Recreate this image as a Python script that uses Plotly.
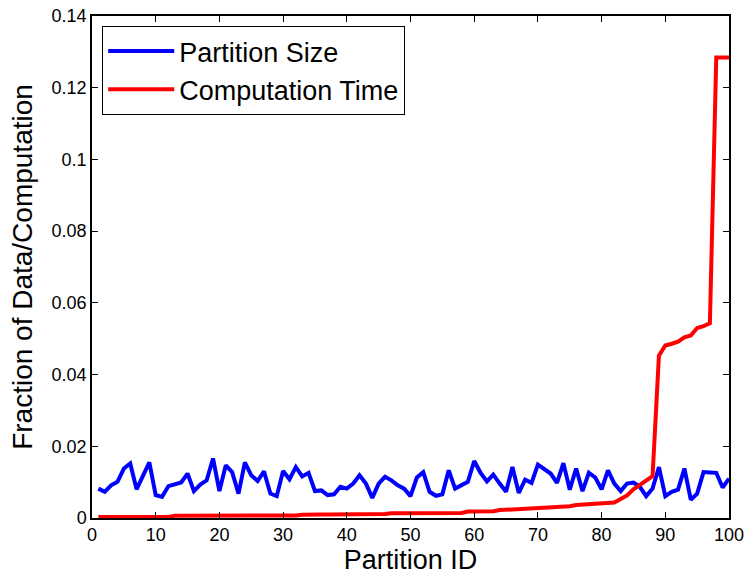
import plotly.graph_objects as go

partition_id = list(range(1, 101))

partition_size = [
    0.0082, 0.0073, 0.0091, 0.0101, 0.0138, 0.0152, 0.0080, 0.0119, 0.0155, 0.0064,
    0.0059, 0.0089, 0.0094, 0.0099, 0.0124, 0.0075, 0.0093, 0.0105, 0.0166, 0.0075,
    0.0147, 0.0128, 0.0068, 0.0155, 0.0119, 0.0103, 0.0130, 0.0068, 0.0061, 0.0131,
    0.0108, 0.0142, 0.0116, 0.0126, 0.0075, 0.0077, 0.0064, 0.0066, 0.0087, 0.0082,
    0.0096, 0.0119, 0.0096, 0.0056, 0.0096, 0.0115, 0.0105, 0.0091, 0.0082, 0.0061,
    0.0113, 0.0128, 0.0073, 0.0062, 0.0066, 0.0133, 0.0082, 0.0091, 0.0101, 0.0159,
    0.0126, 0.0102, 0.0121, 0.0096, 0.0073, 0.0142, 0.0070, 0.0107, 0.0098, 0.0149,
    0.0135, 0.0124, 0.0098, 0.0153, 0.0079, 0.0138, 0.0075, 0.0126, 0.0113, 0.0080,
    0.0133, 0.0096, 0.0075, 0.0096, 0.0099, 0.0087, 0.0061, 0.0082, 0.0142, 0.0061,
    0.0073, 0.0079, 0.0138, 0.0051, 0.0068, 0.0128, 0.0127, 0.0126, 0.0085, 0.0110,
]

computation_time = [
    0.0003, 0.0003, 0.0003, 0.0003, 0.0003, 0.0003, 0.0003, 0.0003, 0.0003, 0.0003,
    0.0003, 0.0003, 0.0006, 0.0006, 0.0006, 0.0006, 0.0006, 0.0006, 0.0006, 0.0006,
    0.0006, 0.0006, 0.0006, 0.0006, 0.0006, 0.0006, 0.0006, 0.0006, 0.0006, 0.0006,
    0.0006, 0.0007, 0.0009, 0.0010, 0.0010, 0.0010, 0.0010, 0.0010, 0.0010, 0.0010,
    0.0010, 0.0010, 0.0010, 0.0010, 0.0010, 0.0011, 0.0013, 0.0013, 0.0013, 0.0013,
    0.0013, 0.0013, 0.0013, 0.0013, 0.0013, 0.0013, 0.0013, 0.0014, 0.0018, 0.0018,
    0.0018, 0.0018, 0.0019, 0.0022, 0.0023, 0.0024, 0.0026, 0.0026, 0.0026, 0.0027,
    0.0028, 0.0030, 0.0031, 0.0032, 0.0033, 0.0036, 0.0037, 0.0038, 0.0040, 0.0041,
    0.0041, 0.0043, 0.0053, 0.0063, 0.0080, 0.0092, 0.0102, 0.0117, 0.0453, 0.0481,
    0.0486, 0.0492, 0.0504, 0.0509, 0.0530, 0.0535, 0.0543, 0.1284, 0.1284, 0.1284,
]

x_ticks = list(range(0, 101, 10))
y_ticks = [0, 0.02, 0.04, 0.06, 0.08, 0.1, 0.12, 0.14]

FONT = "Liberation Sans, Arial, sans-serif"

fig = go.Figure()
fig.add_trace(go.Scatter(x=partition_id, y=partition_size, mode="lines",
                         name="Partition Size", line=dict(color="#0000FF", width=4)))
fig.add_trace(go.Scatter(x=partition_id, y=computation_time, mode="lines",
                         name="Computation Time", line=dict(color="#FF0000", width=4)))

axis_common = dict(
    showline=True, linecolor="black", linewidth=1.5, mirror="ticks",
    ticks="inside", ticklen=6, tickcolor="black", tickwidth=1,
    showgrid=False, zeroline=False, automargin=False,
    tickfont=dict(family=FONT, size=18, color="black"),
)

fig.update_layout(
    width=745, height=575,
    margin=dict(l=92, r=16, t=16, b=57),
    paper_bgcolor="white", plot_bgcolor="white",
    font=dict(family=FONT, color="black"),
    xaxis=dict(range=[0, 100], tickvals=x_ticks, **axis_common,
               title=dict(text="Partition ID", font=dict(family=FONT, size=27), standoff=5)),
    yaxis=dict(range=[0, 0.14], tickvals=y_ticks, **axis_common,
               title=dict(text="Fraction of Data/Computation", font=dict(family=FONT, size=28), standoff=11)),
    legend=dict(x=0.016, y=0.98, xanchor="left", yanchor="top",
                bgcolor="white", bordercolor="black", borderwidth=1,
                font=dict(family=FONT, size=27, color="black"),
                itemwidth=66, tracegroupgap=0),
    showlegend=True,
)

fig.write_html(
    "out.html",
    config={"displayModeBar": False},
    post_script="document.body.style.margin='0';document.body.style.padding='0';",
)
